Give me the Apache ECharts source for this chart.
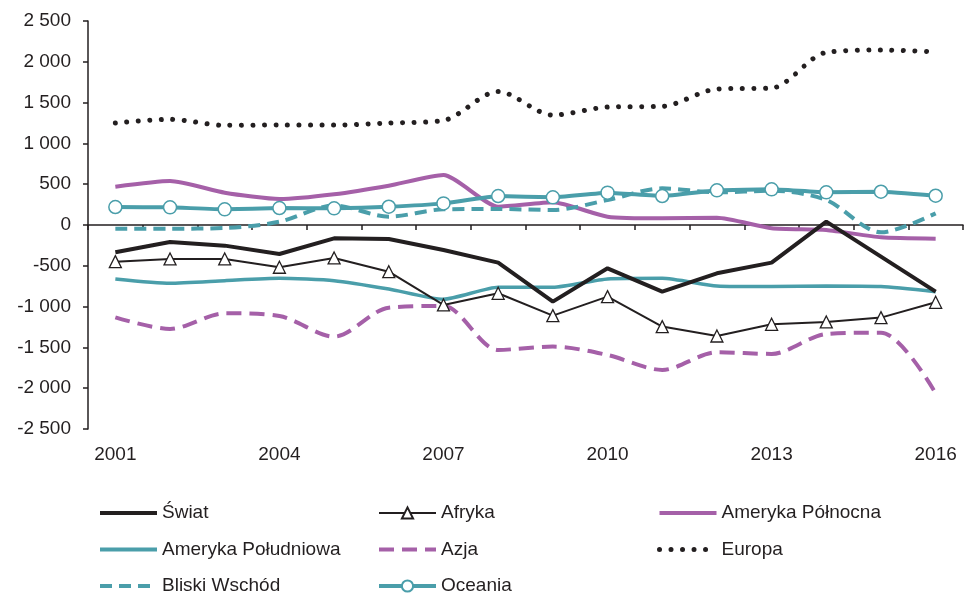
<!DOCTYPE html>
<html>
<head>
<meta charset="utf-8">
<script src="https://cdn.jsdelivr.net/npm/echarts@6/dist/echarts.min.js"></script>
<style>
  html, body { margin: 0; padding: 0; background: #fff; }
  #chart { width: 965px; height: 594px; }
</style>
</head>
<body>
<div id="chart"></div>
<script>
// lata
const years = ['2001','2002','2003','2004','2005','2006','2007','2008','2009','2010','2011','2012','2013','2014','2015','2016'];

// wartości
const swiat      = [-335, -208, -253, -355, -163, -172, -306, -461, -939, -531, -817, -592, -461, 41, -388, -817];
const afryka     = [-449, -416, -416, -518, -404, -572, -980, -837, -1111, -878, -1245, -1360, -1217, -1188, -1135, -947];
const amerPn     = [470, 539, 396, 318, 376, 481, 612, 224, 278, 102, 82, 88, -40, -61, -151, -168];
const amerPd     = [-661, -714, -682, -653, -682, -784, -910, -763, -763, -661, -653, -747, -755, -747, -755, -817];
const azja       = [-1131, -1274, -1082, -1115, -1368, -1013, -992, -1531, -1490, -1593, -1776, -1560, -1580, -1335, -1319, -2062];
const europa     = [1250, 1295, 1221, 1225, 1225, 1250, 1282, 1637, 1347, 1445, 1454, 1666, 1678, 2115, 2144, 2123];
const bliski     = [-45, -45, -37, 40, 240, 102, 192, 196, 184, 306, 449, 400, 420, 306, -90, 143];
const oceania    = [220, 216, 192, 208, 204, 224, 265, 355, 339, 396, 355, 425, 437, 400, 408, 359];

const black = '#231f20';
const purple = '#a560a8';
const teal = '#4a9eaa';
const font = 'Liberation Sans, Arial, sans-serif';

function fmt(v) {
  const s = String(Math.abs(v)).replace(/\B(?=(\d{3})+(?!\d))/g, ' ');
  return v < 0 ? '-' + s : s;
}

// pozycja legendy; bez znacznika, gdy mark = false
function item(name, width, mark) {
  const o = { name: name, lineStyle: { width: width } };
  if (!mark) o.itemStyle = { opacity: 0 };
  return o;
}

const chart = echarts.init(document.getElementById('chart'));

const legendBase = {
  orient: 'vertical',
  top: 503,
  height: 100,
  padding: 0,
  itemWidth: 57,
  itemHeight: 14,
  itemGap: 16.5,
  selectedMode: false,
  textStyle: { fontSize: 19, color: black, fontFamily: font, lineHeight: 20 }
};

chart.setOption({
  animation: false,
  textStyle: { fontFamily: font },
  grid: { left: 88, right: 2, top: 21, bottom: 165, containLabel: false },
  legend: [
    Object.assign({ left: 98, data: [item('Świat', 4), item('Ameryka Południowa', 4), item('Bliski Wschód', 4)] }, legendBase),
    Object.assign({ left: 377, data: [item('Afryka', 2, true), item('Azja', 4), item('Oceania', 4, true)] }, legendBase),
    Object.assign({ left: 657, data: [item('Ameryka Północna', 4), item('Europa', 5)] }, legendBase)
  ],
  xAxis: [
    {
      type: 'category',
      data: years,
      boundaryGap: true,
      axisLine: { onZero: true, lineStyle: { color: black, width: 1.5 } },
      axisTick: { show: true, length: 5, lineStyle: { color: black, width: 1.5 } },
      axisLabel: { show: false }
    },
    {
      type: 'category',
      data: years,
      position: 'bottom',
      boundaryGap: true,
      axisLine: { show: false, onZero: false },
      axisTick: { show: false },
      axisLabel: { interval: 2, fontSize: 19, color: black, fontFamily: font, margin: 16 }
    }
  ],
  yAxis: {
    type: 'value',
    min: -2500,
    max: 2500,
    interval: 500,
    splitLine: { show: false },
    axisLine: { show: true, lineStyle: { color: black, width: 1.5 } },
    axisTick: { show: true, length: 5, lineStyle: { color: black, width: 1.5 } },
    axisLabel: { fontSize: 19, color: black, fontFamily: font, margin: 17, formatter: fmt }
  },
  series: [
    {
      name: 'Europa', type: 'line', data: europa, smooth: 0.3, symbol: 'none',
      lineStyle: { color: black, width: 5, type: [0.01, 11.5], cap: 'round' },
      itemStyle: { color: black }
    },
    {
      name: 'Ameryka Północna', type: 'line', data: amerPn, smooth: 0.2, symbol: 'none',
      lineStyle: { color: purple, width: 4 }, itemStyle: { color: purple }
    },
    {
      name: 'Bliski Wschód', type: 'line', data: bliski, smooth: 0.3, symbol: 'none',
      lineStyle: { color: teal, width: 4, type: [12, 7] }, itemStyle: { color: teal }
    },
    {
      name: 'Oceania', type: 'line', data: oceania, smooth: 0.1,
      symbol: 'circle', symbolSize: 13,
      lineStyle: { color: teal, width: 4 },
      itemStyle: { color: '#fff', borderColor: teal, borderWidth: 1.5 }
    },
    {
      name: 'Azja', type: 'line', data: azja, smooth: 0.3, symbol: 'none',
      lineStyle: { color: purple, width: 4, type: [15, 8] }, itemStyle: { color: purple }
    },
    {
      name: 'Ameryka Południowa', type: 'line', data: amerPd, smooth: 0.2, symbol: 'none',
      lineStyle: { color: teal, width: 3.5 }, itemStyle: { color: teal }
    },
    {
      name: 'Afryka', type: 'line', data: afryka, symbol: 'triangle', symbolSize: 12,
      lineStyle: { color: black, width: 2 },
      itemStyle: { color: '#fff', borderColor: black, borderWidth: 1.3 }
    },
    {
      name: 'Świat', type: 'line', data: swiat, symbol: 'none',
      lineStyle: { color: black, width: 4 }, itemStyle: { color: black }
    }
  ]
});
</script>
</body>
</html>
